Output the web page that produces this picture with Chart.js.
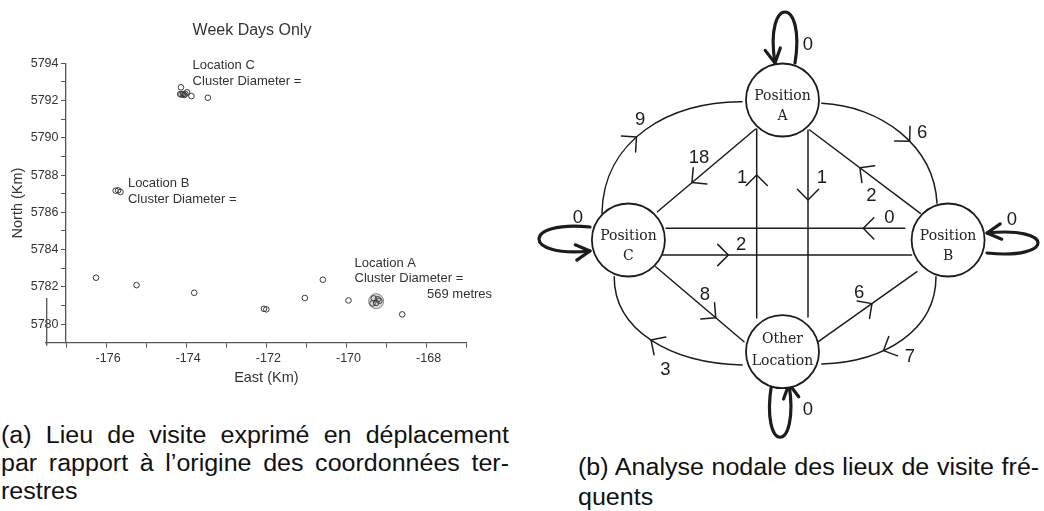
<!DOCTYPE html>
<html><head><meta charset="utf-8">
<script src="https://cdn.jsdelivr.net/npm/chart.js@4.4.1/dist/chart.umd.min.js"></script>
<style>
html,body{margin:0;padding:0;background:#fff;}
body{width:1044px;height:511px;position:relative;overflow:hidden;font-family:"Liberation Sans",Arial,sans-serif;}
#wrapA{position:absolute;left:0;top:0;width:520px;height:395px;}
#wrapB{position:absolute;left:520px;top:0;width:524px;height:445px;}
.cap{position:absolute;font-size:23.5px;color:#111;transform:scaleX(1.065);transform-origin:0 0;}
.cap .j{text-align:justify;text-align-last:justify;}
.cap .l{white-space:nowrap;}
</style></head>
<body>
<div id="wrapA"><canvas id="c1" width="520" height="395"></canvas></div>
<div id="wrapB"><canvas id="c2" width="524" height="445"></canvas></div>
<div class="cap" style="left:1px;top:420.5px;width:477px;line-height:28px;">
  <div class="j">(a) Lieu de visite exprimé en déplacement</div>
  <div class="j">par rapport à l’origine des coordonnées ter-</div>
  <div class="l">restres</div>
</div>
<div class="cap" style="left:578px;top:451.5px;width:433px;line-height:30px;">
  <div class="j">(b) Analyse nodale des lieux de visite fré-</div>
  <div class="l">quents</div>
</div>
<script>
// ================= DATA : panel (a) =================
const chartTitle = 'Week Days Only';
const eastKm  = [-174.13,-174.15,-174.08,-174.02,-173.98,-173.87,-173.46,-174.12,-174.05,
                 -175.76,-175.70,-175.64,
                 -176.25,-175.24,-173.80,-172.06,-172.00,-171.04,-170.59,-169.95,-168.61,
                 -169.32,-169.22,-169.35,-169.26,-169.18];
const northKm = [5792.71,5792.35,5792.35,5792.35,5792.44,5792.24,5792.15,5792.32,5792.30,
                 5787.16,5787.18,5787.09,
                 5782.49,5782.09,5781.68,5780.82,5780.79,5781.40,5782.38,5781.27,5780.52,
                 5781.38,5781.33,5781.11,5781.14,5781.25];
const clusterAEast  = [-169.26];
const clusterANorth = [5781.23];
const eastTicks       = [-177,-176,-175,-174,-173,-172,-171,-170,-169,-168,-167];
const eastTickLabels  = [-176,-174,-172,-170,-168];
const northTicks      = [5779,5780,5781,5782,5783,5784,5785,5786,5787,5788,5789,5790,5791,5792,5793,5794];
const northTickLabels = [5780,5782,5784,5786,5788,5790,5792,5794];
const noteTexts  = [['Location C','Cluster Diameter ='],['Location B','Cluster Diameter ='],['Location A','Cluster Diameter ='],['569 metres']];
const noteEast   = [-173.84,-175.455,-169.80,-167.99];
const noteNorth  = [5793.89,5787.56,5783.27,5781.59];

// ================= DATA : panel (b) =================
const placeKeys  = ['A','B','C','O'];
const placeNames = ['Position A','Position B','Position C','Other Location'];
const tripFrom  = ['C','A','O','A','A','B','B','C','C','O','B','O','A','B','C','O'];
const tripTo    = ['A','C','A','O','B','A','C','B','O','B','O','C','A','B','C','O'];
const tripCount = [ 9, 18,  1,  1,  6,  2,  0,  2,  8,  6,  7,  3,  0,  0,  0,  0];

// ================= LAYOUT (positions / styles) =================
const diagramLayout = {
  nodes: {
    A:{x:782.5,y:100,  lines:['Position','A'],        base:[0,20]},
    B:{x:948.1,y:240,  lines:['Position','B'],        base:[0,20]},
    C:{x:628.4,y:240,  lines:['Position','C'],        base:[0,20]},
    O:{x:782.5,y:351.7,lines:['Other','Location'],    base:[-8.5,13.5]}
  },
  edges: {
    'A>C':{line:[[755.3,129.3],[657.4,211.7]], t:0.647, lab:[699,158.3]},
    'O>A':{line:[[756.7,318],[756.7,129]],     t:0.757, lab:[742.2,178.3]},
    'A>O':{line:[[808,130],[808,317]],         t:0.374, lab:[821.8,178.3]},
    'B>A':{line:[[920.4,213.3],[809.7,130]],   t:0.547, lab:[871.3,195.7]},
    'B>C':{line:[[904.8,228.3],[666,228.3]],   t:0.174, lab:[889.3,218.3]},
    'C>B':{line:[[662.6,255],[911.7,255]],     t:0.264, lab:[741.2,245]},
    'C>O':{line:[[655.7,266.7],[744,341.7]],   t:0.68,  lab:[704.8,295]},
    'O>B':{line:[[818.3,341.7],[917,271.7]],   t:0.544, lab:[859.1,293.3]},
    'C>A':{curve:[[602,213.3],[603,140],[670,101],[742,101.7]],     t:0.44, lab:[640.1,120]},
    'A>B':{curve:[[821.8,103.3],[880,106],[934,145],[937,203.3]],   t:0.58, lab:[922.1,133.3]},
    'B>O':{curve:[[936,276.7],[936,330],[885,362],[821.8,364]],     t:0.64, lab:[910,356.7]},
    'O>C':{curve:[[742.2,365],[670,363],[614,330],[614.2,276.7]],   t:0.5,  lab:[665.4,370]},
    'A>A':{loop:[[795,63],[806,-5],[764,-5],[775,63]],              lab:[808,45]},
    'C>C':{loop:[[590,227],[522,220],[522,258],[590,251]],          lab:[577.9,218.3]},
    'B>B':{loop:[[987,253],[1055,260],[1055,226],[987,233]],        lab:[1012,220]},
    'O>O':{loop:[[771.6,384],[760,455],[800,455],[789,384]],        lab:[808,410]}
  }
};

const TXT = '#333';
const FONT = '"Liberation Sans", Arial, sans-serif';

// ---------- panel (a) ----------
const extrasA = {
  id:'extrasA',
  afterDraw(chart){
    const {ctx, chartArea:ca, scales:{x,y}} = chart;
    ctx.save();
    ctx.fillStyle = TXT;
    ctx.font = '16px ' + FONT;
    ctx.textAlign = 'center'; ctx.textBaseline = 'middle';
    ctx.fillText(chartTitle, 252, 31);
    ctx.font = '13px ' + FONT;
    ctx.textAlign = 'left';
    noteTexts.forEach((lines, i) => {
      const px = x.getPixelForValue(noteEast[i]), py = y.getPixelForValue(noteNorth[i]);
      lines.forEach((s, k) => ctx.fillText(s, px, py + k * 15.7));
    });
    // stray axis fragment at lower-left corner
    ctx.strokeStyle = '#555'; ctx.lineWidth = 1.3;
    ctx.beginPath();
    ctx.moveTo(ca.left - 21, ca.bottom); ctx.lineTo(ca.left, ca.bottom);
    ctx.moveTo(ca.left - 19.3, ca.bottom - 44.7); ctx.lineTo(ca.left - 19.3, ca.bottom + 3);
    ctx.stroke();
    ctx.restore();
  }
};

new Chart(document.getElementById('c1'), {
  type:'scatter',
  data:{datasets:[
    {data: eastKm.map((v,i)=>({x:v, y:northKm[i]})), pointRadius:2.8, pointHoverRadius:2.8,
     borderColor:'#3a3a3a', borderWidth:1, backgroundColor:'rgba(0,0,0,0)'},
    {data: clusterAEast.map((v,i)=>({x:v, y:clusterANorth[i]})), pointRadius:7.5, pointHoverRadius:7.5,
     borderColor:'#888', borderWidth:1, backgroundColor:'rgba(130,130,130,0.3)'}
  ]},
  options:{
    responsive:false, animation:false, events:[], devicePixelRatio:1,
    layout:{autoPadding:false, padding:{top:63.3, right:53.3, left:0, bottom:0}},
    plugins:{legend:{display:false}, tooltip:{enabled:false}, title:{display:false}},
    scales:{
      x:{type:'linear', min:-177, max:-167,
        afterBuildTicks:s=>{ s.ticks = eastTicks.map(v=>({value:v})); },
        afterFit:s=>{ s.height = 52.3; },
        ticks:{autoSkip:false, maxRotation:0, padding:3, labelOffset:2, color:TXT, font:{family:FONT, size:12.5},
               callback:v=> eastTickLabels.includes(v) ? String(v) : ''},
        grid:{drawOnChartArea:false, drawTicks:true, tickLength:5, tickColor:'#555', tickWidth:1},
        border:{color:'#555', width:1.3},
        title:{display:true, text:'East (Km)', color:TXT, font:{family:FONT, size:14.5}, padding:{top:0, bottom:8}}
      },
      y:{type:'linear', min:5779, max:5794,
        afterBuildTicks:s=>{ s.ticks = northTicks.map(v=>({value:v})); },
        afterFit:s=>{ s.width = 66; },
        ticks:{autoSkip:false, padding:2.5, color:TXT, font:{family:FONT, size:12.5},
               callback:v=> northTickLabels.includes(v) ? String(v) : ''},
        grid:{drawOnChartArea:false, drawTicks:true, tickLength:5, tickColor:'#555', tickWidth:1},
        border:{color:'#555', width:1.3},
        title:{display:true, text:'North (Km)', color:TXT, font:{family:FONT, size:14.5}, padding:{top:9.3, bottom:0}}
      }
    }
  },
  plugins:[extrasA]
});

// ---------- panel (b) ----------
function cubicPt(p,t){const u=1-t;return [0,1].map(k=>u*u*u*p[0][k]+3*u*u*t*p[1][k]+3*u*t*t*p[2][k]+t*t*t*p[3][k]);}
function cubicTan(p,t){const u=1-t;return [0,1].map(k=>3*u*u*(p[1][k]-p[0][k])+6*u*t*(p[2][k]-p[1][k])+3*t*t*(p[3][k]-p[2][k]));}
function arrowHead(ctx,tip,dir,len,half){
  const a=Math.atan2(dir[1],dir[0]);
  ctx.beginPath();
  ctx.moveTo(tip[0]-len*Math.cos(a-half), tip[1]-len*Math.sin(a-half));
  ctx.lineTo(tip[0],tip[1]);
  ctx.lineTo(tip[0]-len*Math.cos(a+half), tip[1]-len*Math.sin(a+half));
  ctx.stroke();
}
const INK = '#1c1c1c';
const diagramPlugin = {
  id:'diagram',
  beforeDatasetsDraw(chart){
    const {ctx, scales:{x,y}} = chart;
    const P = q => [x.getPixelForValue(q[0]), y.getPixelForValue(q[1])];
    ctx.save();
    ctx.strokeStyle = INK; ctx.lineCap = 'round'; ctx.lineJoin = 'round';
    tripFrom.forEach((f,i)=>{
      const g = diagramLayout.edges[f+'>'+tripTo[i]];
      if (!g) return;
      if (g.line){
        const a=P(g.line[0]), b=P(g.line[1]);
        ctx.lineWidth = 1.5;
        ctx.beginPath(); ctx.moveTo(a[0],a[1]); ctx.lineTo(b[0],b[1]); ctx.stroke();
        const tip=[a[0]+(b[0]-a[0])*g.t, a[1]+(b[1]-a[1])*g.t];
        arrowHead(ctx, tip, [b[0]-a[0], b[1]-a[1]], 15, Math.PI/4);
      } else {
        const c = (g.curve||g.loop).map(P);
        ctx.lineWidth = g.loop ? 3.2 : 1.5;
        ctx.beginPath(); ctx.moveTo(c[0][0],c[0][1]);
        ctx.bezierCurveTo(c[1][0],c[1][1],c[2][0],c[2][1],c[3][0],c[3][1]); ctx.stroke();
        if (g.loop){
          arrowHead(ctx, c[3], cubicTan(c,1), 16, 0.5);
        } else {
          arrowHead(ctx, cubicPt(c,g.t), cubicTan(c,g.t), 15, Math.PI/4);
        }
      }
    });
    ctx.restore();
  },
  afterDatasetsDraw(chart){
    const {ctx, scales:{x,y}} = chart;
    const P = q => [x.getPixelForValue(q[0]), y.getPixelForValue(q[1])];
    ctx.save();
    ctx.fillStyle = INK;
    ctx.textAlign = 'center'; ctx.textBaseline = 'middle';
    ctx.font = '18.5px ' + FONT;
    tripFrom.forEach((f,i)=>{
      const g = diagramLayout.edges[f+'>'+tripTo[i]];
      const p = P(g.lab);
      ctx.fillText(String(tripCount[i]), p[0], p[1]);
    });
    ctx.font = '14px "DejaVu Serif", serif';
    ctx.fillStyle = '#222';
    ctx.textBaseline = 'alphabetic';
    placeKeys.forEach(k=>{
      const n = diagramLayout.nodes[k];
      const p = P([n.x,n.y]);
      n.lines.forEach((s,j)=> ctx.fillText(s, p[0], p[1]+n.base[j]));
    });
    ctx.restore();
  }
};

new Chart(document.getElementById('c2'), {
  type:'scatter',
  data:{datasets:[{
    label:'places',
    data: placeKeys.map((k,i)=>({x:diagramLayout.nodes[k].x, y:diagramLayout.nodes[k].y, name:placeNames[i]})),
    pointRadius:36.5, pointHoverRadius:36.5, backgroundColor:'#fff', borderColor:INK, borderWidth:1.8
  }]},
  options:{
    responsive:false, animation:false, events:[], devicePixelRatio:1,
    layout:{autoPadding:false, padding:0},
    plugins:{legend:{display:false}, tooltip:{enabled:false}},
    scales:{
      x:{type:'linear', display:false, min:520, max:1044},
      y:{type:'linear', display:false, min:0, max:445, reverse:true}
    }
  },
  plugins:[diagramPlugin]
});
</script>
</body></html>
